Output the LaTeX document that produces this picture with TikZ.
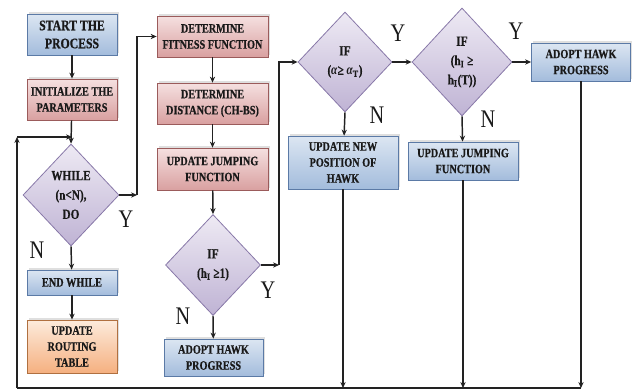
\documentclass[tikz,border=0pt]{standalone}
\usepackage{fontspec}
\setmainfont{Liberation Serif}[FakeStretch=0.8,
  BoldFont={Liberation Serif Bold}, BoldItalicFont={Liberation Serif Bold Italic},
  BoldFeatures={FakeBold=0.6}]
\usetikzlibrary{shapes.geometric,arrows.meta,shadows}
\tikzset{every picture/.style={line width=0.75pt}}

\definecolor{blueTop}{HTML}{DCE6F2}
\definecolor{blueBot}{HTML}{A3BCDC}
\definecolor{blueLine}{HTML}{5B7AA6}
\definecolor{redTop}{HTML}{F5E0E0}
\definecolor{redBot}{HTML}{D9A0A0}
\definecolor{redLine}{HTML}{9B5B5B}
\definecolor{orgTop}{HTML}{FDEBDC}
\definecolor{orgBot}{HTML}{F5B080}
\definecolor{orgLine}{HTML}{B07040}
\definecolor{lilTop}{HTML}{EEEAF4}
\definecolor{lilBot}{HTML}{BFB3D4}
\definecolor{lilLine}{HTML}{8878A8}
\definecolor{flowGray}{HTML}{222222}

\tikzset{
  proc/.style={rectangle, align=center, line width=0.6pt, inner sep=1pt,
    font=\bfseries\fontsize{9.6}{12}\selectfont, text=black!90,
    drop shadow={opacity=0.25, shadow xshift=1.2pt, shadow yshift=1.2pt}},
  bluebox/.style={proc, draw=blueLine, top color=blueTop, bottom color=blueBot},
  redbox/.style={proc, draw=redLine, top color=redTop, bottom color=redBot},
  orgbox/.style={proc, draw=orgLine, top color=orgTop, bottom color=orgBot},
  decide/.style={diamond, align=center, line width=0.6pt, inner sep=0pt,
    draw=lilLine, top color=lilTop, bottom color=lilBot,
    font=\bfseries\fontsize{10.5}{14.5}\selectfont, text=black!90},
  yn/.style={font=\fontsize{19}{19}\selectfont, text=black!90, inner sep=0pt},
  flow/.style={draw=flowGray, line width=1.1pt, -{Stealth[length=4.5pt,width=4pt]}},
  bus/.style={draw=flowGray, line width=1.1pt}
}

\begin{document}
\begin{tikzpicture}[x=0.75pt,y=0.75pt,yscale=-1,xscale=1]
\useasboundingbox (0,0) rectangle (634,390);

%Shape: Rectangle [start]
\node [bluebox, minimum width=67.5pt, minimum height=30.75pt, font=\bfseries\fontsize{11}{13.5}\selectfont] (start) at (72,34.5) {START THE\\PROCESS};
%Shape: Rectangle [init]
\node [redbox, minimum width=67.5pt, minimum height=30.75pt] (init) at (72,99.5) {INITIALIZE THE\\PARAMETERS};
%Shape: Diamond [while]
\node [decide, minimum width=72pt, minimum height=76.5pt] (while) at (71,195) {WHILE\\(n<N),\\DO};
%Shape: Rectangle [endw]
\node [bluebox, minimum width=67.5pt, minimum height=18.75pt] (endw) at (72,282.5) {END WHILE};
%Shape: Rectangle [route]
\node [orgbox, minimum width=67.5pt, minimum height=39.75pt] (route) at (72,346.5) {UPDATE\\ROUTING\\TABLE};

%Shape: Rectangle [fit]
\node [redbox, minimum width=83.25pt, minimum height=30.75pt] (fit) at (212.5,36.5) {DETERMINE\\FITNESS FUNCTION};
%Shape: Rectangle [dist]
\node [redbox, minimum width=83.25pt, minimum height=30.75pt] (dist) at (212.5,103.5) {DETERMINE\\DISTANCE (CH-BS)};
%Shape: Rectangle [jump]
\node [redbox, minimum width=83.25pt, minimum height=31.5pt] (jump) at (212.5,169) {UPDATE JUMPING\\FUNCTION};
%Shape: Diamond [ifh]
\node [decide, minimum width=71.25pt, minimum height=75.75pt] (ifh) at (213,265) {IF\\(h\textsubscript{I} ≥1)};
%Shape: Rectangle [adopt]
\node [bluebox, minimum width=74.25pt, minimum height=27.75pt] (adopt) at (213.5,357.5) {ADOPT HAWK\\PROGRESS};

%Shape: Diamond [ifa]
\node [decide, minimum width=70.5pt, minimum height=75pt] (ifa) at (345,62) {IF\\(\textit{α}≥ \textit{α}\textsubscript{T})};
%Shape: Rectangle [newpos]
\node [bluebox, minimum width=82.5pt, minimum height=39.75pt] (newpos) at (343,162.5) {UPDATE NEW\\POSITION OF\\HAWK};

%Shape: Diamond [ifht]
\node [decide, minimum width=75pt, minimum height=81pt] (ifht) at (462,62) {IF\\(h\textsubscript{I} ≥\\h\textsubscript{I}(T))};
%Shape: Rectangle [jumpb]
\node [bluebox, minimum width=82.5pt, minimum height=28.5pt] (jumpb) at (463,161) {UPDATE JUMPING\\FUNCTION};
%Shape: Rectangle [adoptb]
\node [bluebox, minimum width=74.25pt, minimum height=28.5pt] (adoptb) at (581,62) {ADOPT HAWK\\PROGRESS};

% Bend points
\coordinate (wturn) at (137,195);
\coordinate (hturn) at (279,265);
\coordinate (busL) at (17,388);
\coordinate (busR) at (adoptb.south |- busL);
\coordinate (loopT) at (17,137);
\coordinate (join) at (init.south |- loopT);

% Connectors
\draw [flow] (start) -- (init);
\draw [flow] (init) -- (while.north);
\draw [flow] (while.south) -- (endw);
\draw [flow] (endw) -- (route);
\draw [flow] (while.east) -- (wturn);
\draw [flow] (wturn) |- (fit.west);
\draw [flow] (fit) -- (dist);
\draw [flow] (dist) -- (jump);
\draw [flow] (jump) -- (ifh.north);
\draw [flow] (ifh.south) -- (adopt);
\draw [flow] (ifh.east) -- (hturn);
\draw [flow] (hturn) |- (ifa.west);
\draw [flow] (ifa.east) -- (ifht.west);
\draw [flow] (ifa.south) -- (newpos);
\draw [flow] (ifht.south) -- (jumpb);
\draw [flow] (ifht.east) -- (adoptb);
\draw [flow] (newpos.south) -- (newpos.south |- busL);
\draw [flow] (jumpb.south) -- (jumpb.south |- busL);
\draw [flow] (adoptb.south) -- (busR);
\draw [bus] (busR) -- (busL);
\draw [flow] (busL) -- (loopT);
\draw [flow] (loopT) -- (join);

% Text Node
\node [yn] (wY) at (126,219) {Y};
% Text Node
\node [yn] (wN) at (37,250) {N};
% Text Node
\node [yn] (hY) at (268,290) {Y};
% Text Node
\node [yn] (hN) at (183,316) {N};
% Text Node
\node [yn] (aY) at (398,33) {Y};
% Text Node
\node [yn] (aN) at (377,115) {N};
% Text Node
\node [yn] (tY) at (516,31) {Y};
% Text Node
\node [yn] (tN) at (488,119) {N};

\end{tikzpicture}
\end{document}
